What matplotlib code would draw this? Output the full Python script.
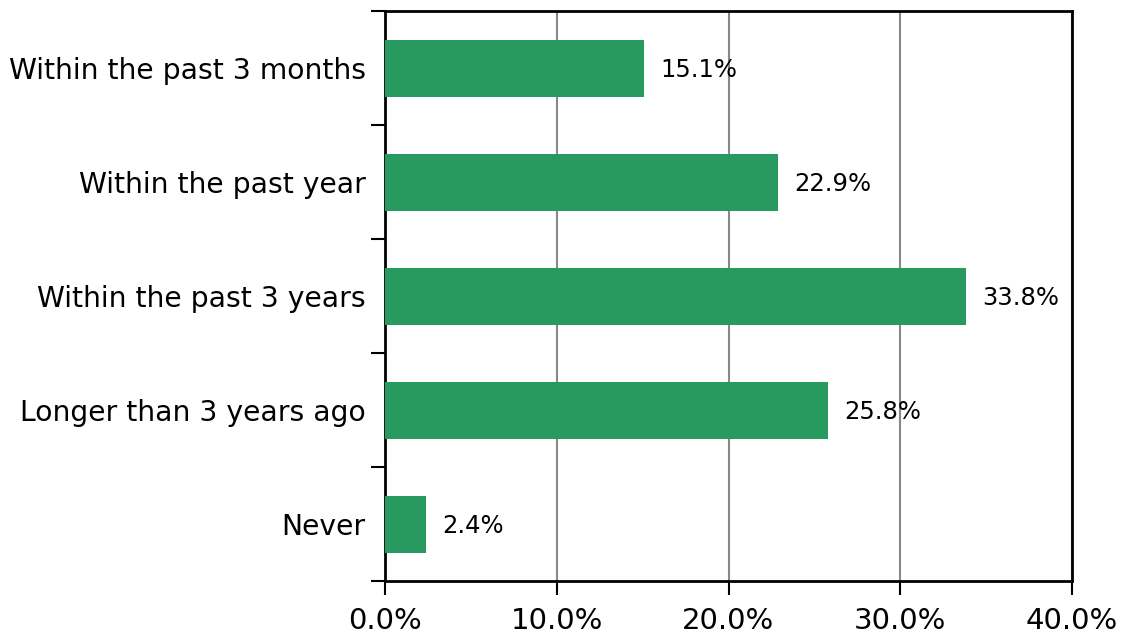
import matplotlib.pyplot as plt
import numpy as np

categories = ["Within the past 3 months", "Within the past year",
              "Within the past 3 years", "Longer than 3 years ago", "Never"]
values = [15.1, 22.9, 33.8, 25.8, 2.4]
xticks = [0, 10, 20, 30, 40]

plt.rcParams['font.family'] = ['DejaVu Sans']

fig = plt.figure(figsize=(11.27, 6.38), dpi=100)
ax = fig.add_axes([385 / 1127, 1 - 581 / 638, (1072 - 385) / 1127, (581 - 11) / 638])

y = np.arange(len(categories))
ax.barh(y, values, height=0.5, color='#289a60', zorder=3)

for yi, v in zip(y, values):
    ax.text(v + 0.95, yi + 0.02, f"{v:.1f}%", va='center', ha='left', fontsize=17.5, zorder=4)

ax.set_xlim(0, 40)
ax.set_ylim(len(categories) - 0.5, -0.5)
ax.set_xticks(xticks)
ax.set_xticklabels([f"{t:.1f}%" for t in xticks], fontsize=21)
ax.set_yticks(y)
ax.set_yticklabels(categories, fontsize=20.3)
ax.tick_params(axis='y', length=0, pad=14)
ax.set_yticks(np.arange(-0.5, len(categories), 1), minor=True)
ax.tick_params(axis='y', which='minor', length=10, width=1.5, direction='out')
ax.tick_params(axis='x', length=10, width=1.5, direction='out', pad=9)

ax.grid(axis='x', color='#888888', linewidth=1.5, zorder=0)
for s in ax.spines.values():
    s.set_linewidth(2)
    s.set_color('black')

fig.savefig('out.png', dpi=100)
